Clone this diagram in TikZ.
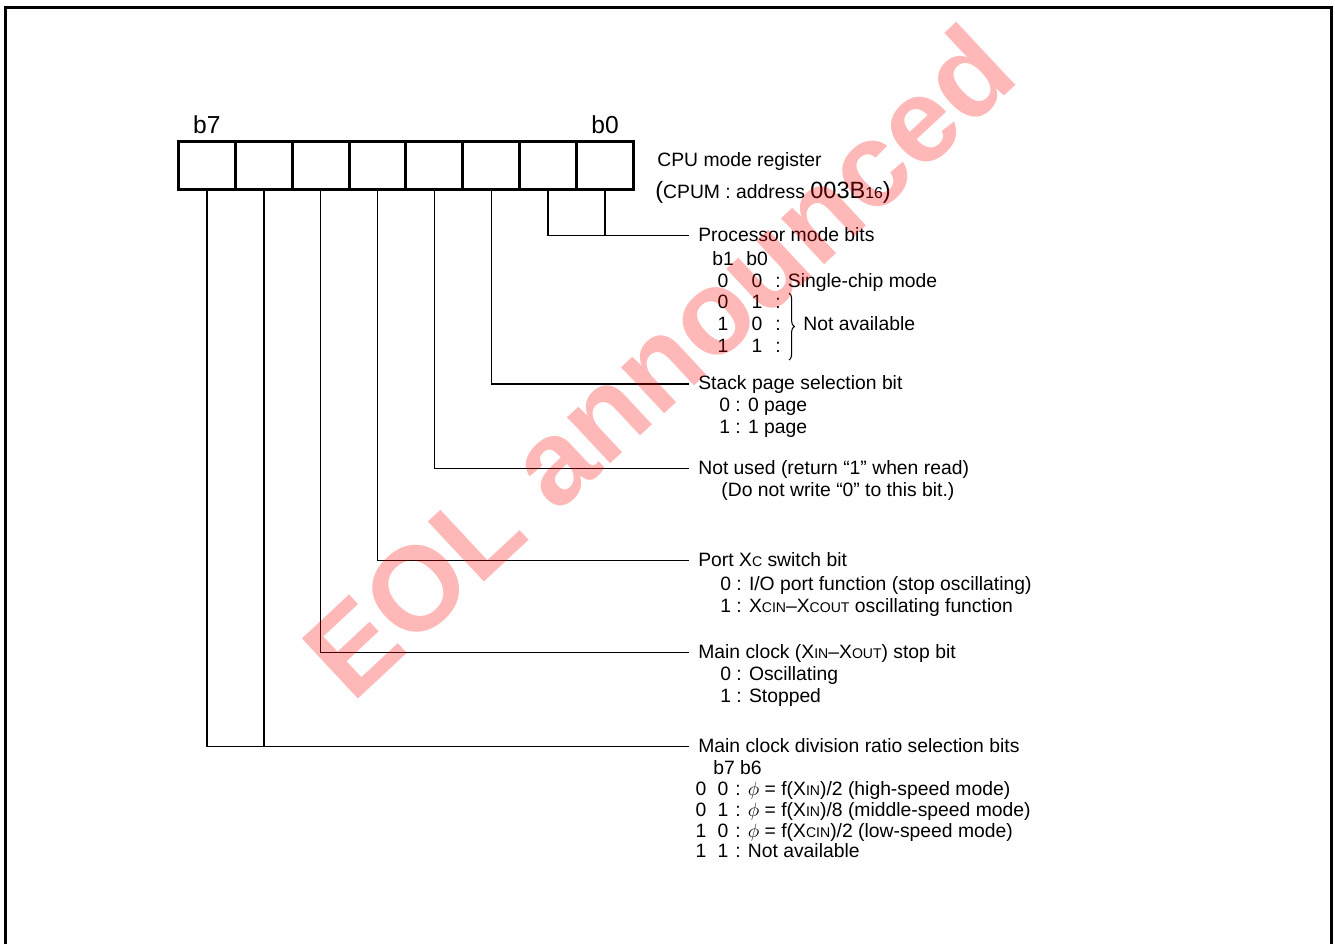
\documentclass[tikz,border=0pt]{standalone}
\usepackage{fontspec}
\setmainfont{Liberation Sans}
\usetikzlibrary{positioning,decorations.pathreplacing}
\newcommand{\sml}[1]{{\fontsize{8}{8}\selectfont #1}}
\newcommand{\bigtx}[1]{{\fontsize{13.4}{14}\selectfont #1}}

\begin{document}
\begin{tikzpicture}[
  x=0.02cm, y=-0.02cm,
  font=\fontsize{11}{13}\selectfont,
  cell/.style={draw, line width=1.7pt, inner sep=0pt, outer sep=0pt,
               minimum width=1.1375cm, minimum height=0.952cm},
  bitlab/.style={inner sep=0pt, font=\fontsize{14}{14}\selectfont},
  ttl/.style={anchor=west, inner xsep=5.1pt, inner ysep=0pt,
              text height=8.3pt, text depth=1.5pt},
  txt/.style={anchor=base west, inner sep=0pt},
  col/.style={anchor=base, inner sep=0pt},
  lead/.style={line width=0.85pt},
  frm/.style={line width=1.4pt},
  wm/.style={anchor=base west, inner sep=0pt, rotate=43, text=red,
             text opacity=0.28, font=\fontsize{68}{68}\selectfont\bfseries}
]
\useasboundingbox (0,0) rectangle (1335,944);
% ---- page frame (open at the bottom) ----
\draw[frm] (5.3,944) |- (1331.7,7.3) -- (1331.7,944);

% ---- register cells, b7 ... b0 ----
\foreach \i in {0,...,7}
  \node[cell] (c\i) at ({605-56.875*\i},165.5) {};
\node[bitlab, above=4.4pt of c7] (lb7) {b7};
\node[bitlab, above=4.4pt of c0] (lb0) {b0};

\node[txt] (reg) at (657,166.7) {CPU mode register};
\node[txt] (adr) at (655,198.3)
  {\bigtx{(}CPUM : address \bigtx{003B}{\fontsize{9}{9}\selectfont 16}\bigtx{)}};

% ---- field titles ----
\node[ttl] (pm) at (689,235.5) {Processor mode bits};
\node[ttl] (sp) at (689,383.8) {Stack page selection bit};
\node[ttl] (nu) at (689,468.3) {Not used (return “1” when read)};
\node[ttl] (px) at (689,560.5) {Port X\sml{C} switch bit};
\node[ttl] (mc) at (689,652.7) {Main clock (X\sml{IN}–X\sml{OUT}) stop bit};
\node[ttl] (dv) at (689,746.7) {Main clock division ratio selection bits};

% ---- leaders ----
\draw[lead] (c1.south) |- (pm.west);
\draw[lead] (c0.south) |- (pm.west);
\draw[lead] (c2.south) |- (sp.west);
\draw[lead] (c3.south) |- (nu.west);
\draw[lead] (c4.south) |- (px.west);
\draw[lead] (c5.south) |- (mc.west);
\draw[lead] (c7.south) |- (dv.west);
\draw[lead] (c6.south) |- (dv.west);

% ---- processor mode bits ----
\node[col] (pmh1) at (723,265) {b1};
\node[col] (pmh0) at (757,265) {b0};
\foreach \a/\b/\y/\t [count=\k] in {0/0/287/{: Single-chip mode},
    0/1/308.5/{:}, 1/0/330.5/{:}, 1/1/352.5/{:}} {
  \node[col] (pa\k) at (723,\y) {\a};
  \node[col] (pb\k) at (757,\y) {\b};
  \node[txt] (pt\k) at (775,\y) {\t};
}
\draw[decorate, decoration={brace, amplitude=3pt}, line width=0.6pt]
  (789,293) -- (789,360);
\node[txt] (na) at (803,330.5) {Not available};

% ---- stack page ----
\node[txt] (sp0) at (719,411) {0 : 0 page};
\node[txt] (sp1) at (719,433) {1 : 1 page};

% ---- not used ----
\node[txt] (nu2) at (721,496) {(Do not write “0” to this bit.)};

% ---- port Xc ----
\node[txt] (px0) at (720,590) {0 : I/O port function (stop oscillating)};
\node[txt] (px1) at (720,612) {1 : X\sml{CIN}–X\sml{COUT} oscillating function};

% ---- main clock stop ----
\node[txt] (mc0) at (720,680.5) {0 : Oscillating};
\node[txt] (mc1) at (720,702.5) {1 : Stopped};

% ---- division ratio ----
\node[txt] (dvh) at (713,774) {b7 b6};
\foreach \a/\b/\y/\t [count=\k] in {
    0/0/795/{: $\phi$ = f(X\sml{IN})/2 (high-speed mode)},
    0/1/816/{: $\phi$ = f(X\sml{IN})/8 (middle-speed mode)},
    1/0/837/{: $\phi$ = f(X\sml{CIN})/2 (low-speed mode)},
    1/1/857.5/{: Not available}} {
  \node[col] (da\k) at (701,\y) {\a};
  \node[col] (db\k) at (723,\y) {\b};
  \node[txt] (dt\k) at (735,\y) {\t};
}

% ---- watermark ----
\node[wm] (eol) at (352,705) {EOL announced};
\end{tikzpicture}
\end{document}
